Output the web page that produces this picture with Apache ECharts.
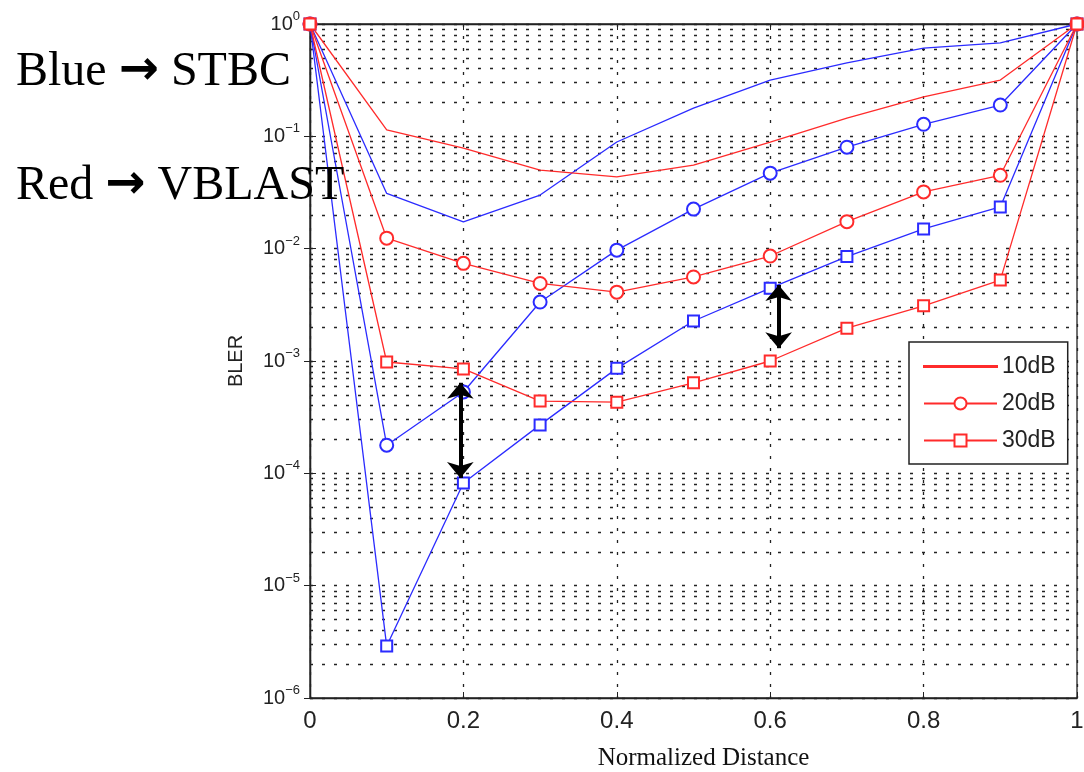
<!DOCTYPE html>
<html>
<head>
<meta charset="utf-8">
<script src="https://cdn.jsdelivr.net/npm/echarts@6/dist/echarts.min.js"></script>
<style>
    html, body { margin: 0; padding: 0; background: #fff; }
    #chart { width: 1084px; height: 772px; }
</style>
</head>
<body>
<div id="chart"></div>
<script>
// normalized distance (x) and BLER
const distance = [0, 0.1, 0.2, 0.3, 0.4, 0.5, 0.6, 0.7, 0.8, 0.9, 1];
const stbc10 = [1, 0.031, 0.0173, 0.030, 0.089, 0.178, 0.317, 0.45, 0.61, 0.68, 1];
const stbc20 = [1, 1.78e-4, 5.3e-4, 3.35e-3, 9.7e-3, 0.0225, 0.047, 0.080, 0.128, 0.19, 1];
const stbc30 = [1, 2.9e-6, 8.2e-5, 2.7e-4, 8.6e-4, 2.27e-3, 4.45e-3, 8.5e-3, 0.015, 0.0235, 1];
const vblast10 = [1, 0.114, 0.0785, 0.050, 0.0435, 0.0555, 0.089, 0.145, 0.224, 0.317, 1];
const vblast20 = [1, 0.0124, 7.4e-3, 4.9e-3, 4.1e-3, 5.6e-3, 8.6e-3, 0.0174, 0.032, 0.045, 1];
const vblast30 = [1, 9.8e-4, 8.5e-4, 4.4e-4, 4.3e-4, 6.4e-4, 1.0e-3, 1.96e-3, 3.1e-3, 5.25e-3, 1];

const snrNames = ['10dB', '20dB', '30dB'];
const yDecades = [-6, -5, -4, -3, -2, -1];
const minorSteps = [2, 3, 4, 5, 6, 7, 8, 9];
// double headed arrows marking the STBC / VBLAST gap
const gapArrows = [
    [[0.196, 6.4e-4], [0.196, 9.1e-5]],
    [[0.611, 4.75e-3], [0.611, 1.3e-3]],
];

const BLUE = '#2b2bff';
const RED = '#ff2b2b';
const INK = '#222';

let minorGrid = [];
yDecades.forEach(function (d) {
    minorSteps.forEach(function (m) {
        minorGrid.push({ yAxis: m * Math.pow(10, d) });
    });
});

function pairs(ys) {
    return distance.map(function (x, i) { return [x, ys[i]]; });
}

function curve(name, color, symbol, ys) {
    return {
        name: name,
        type: 'line',
        data: pairs(ys),
        z: 3,
        clip: false,
        symbol: symbol,
        symbolSize: symbol === 'emptyCircle' ? 13 : 11,
        showSymbol: symbol !== 'none',
        lineStyle: { color: color, width: 1.3 },
        itemStyle: { color: color, borderColor: color, borderWidth: 1.3 },
        emphasis: { disabled: true },
    };
}

const dotted = { color: INK, width: 1.3, type: [3, 9] };

let chart = echarts.init(document.getElementById('chart'));
let option = {
    animation: false,
    backgroundColor: '#fff',
    grid: {
        left: 310,
        right: 7,
        top: 24,
        bottom: 74,
        outerBoundsMode: 'none',
        containLabel: false,
        show: true,
        borderColor: INK,
        borderWidth: 1.3,
        backgroundColor: 'transparent',
    },
    legend: {
        left: 909,
        top: 342,
        z: 10,
        orient: 'vertical',
        selectedMode: false,
        backgroundColor: '#fff',
        borderColor: INK,
        borderWidth: 1.5,
        padding: [13, 12, 12, 14],
        itemWidth: 73,
        itemHeight: 15,
        itemGap: 14,
        textStyle: { fontFamily: 'Liberation Sans', fontSize: 23, color: INK },
        data: [
            { name: '10dB', icon: 'path://M0,0M73,15M0,6.9L73,6.9L73,8.1L0,8.1Z' },
            '20dB',
            '30dB',
        ],
    },
    xAxis: [
        {
            type: 'value',
            min: 0,
            max: 1,
            interval: 0.2,
            name: 'Normalized Distance',
            nameLocation: 'middle',
            nameGap: 48,
            nameTextStyle: { fontFamily: 'Liberation Serif', fontSize: 25, color: '#111', padding: [0, 0, 0, 20] },
            axisLine: { lineStyle: { color: INK, width: 1.3 } },
            axisTick: { inside: true, length: 6, lineStyle: { color: INK } },
            axisLabel: {
                margin: 11,
                fontFamily: 'Liberation Sans',
                fontSize: 24,
                color: INK,
                formatter: function (v) { return String(+v.toFixed(1)); },
            },
            splitLine: { show: true, lineStyle: dotted },
        },
        {
            type: 'value',
            position: 'top',
            min: 0,
            max: 1,
            interval: 0.2,
            axisLine: { lineStyle: { color: INK, width: 1.3 } },
            axisTick: { inside: true, length: 6, lineStyle: { color: INK } },
            axisLabel: { show: false },
            splitLine: { show: false },
        },
    ],
    yAxis: [
        {
            type: 'log',
            logBase: 10,
            min: 1e-6,
            max: 1,
            splitNumber: 6,
            name: 'BLER',
            nameLocation: 'middle',
            nameGap: 64,
            nameRotate: 90,
            nameTextStyle: { fontFamily: 'Liberation Sans', fontSize: 20, color: INK },
            axisLine: { show: true, lineStyle: { color: INK, width: 1.3 } },
            axisTick: { inside: true, length: 6, lineStyle: { color: INK } },
            axisLabel: {
                margin: 10,
                formatter: function (v) {
                    let e = Math.round(Math.log10(v));
                    return '{b|10}{s|' + (e < 0 ? '\u2212' + (-e) : e) + '}';
                },
                rich: {
                    b: { fontFamily: 'Liberation Sans', fontSize: 20, color: INK, lineHeight: 28 },
                    s: { fontFamily: 'Liberation Sans', fontSize: 13, color: INK, verticalAlign: 'top', lineHeight: 28 },
                },
            },
            splitLine: { show: true, lineStyle: dotted },
        },
        {
            type: 'log',
            logBase: 10,
            min: 1e-6,
            max: 1,
            splitNumber: 6,
            position: 'right',
            axisLine: { show: true, lineStyle: { color: INK, width: 1.3 } },
            axisTick: { inside: true, length: 6, lineStyle: { color: INK } },
            axisLabel: { show: false },
            splitLine: { show: false },
        },
    ],
    series: [
        {
            name: 'minor grid',
            type: 'line',
            data: [],
            z: 1,
            silent: true,
            markLine: {
                z: 1,
                silent: true,
                animation: false,
                precision: 12,
                symbol: ['none', 'none'],
                label: { show: false },
                lineStyle: dotted,
                emphasis: { disabled: true },
                data: minorGrid,
            },
        },
        curve('STBC 10dB', BLUE, 'none', stbc10),
        curve('STBC 20dB', BLUE, 'emptyCircle', stbc20),
        curve('STBC 30dB', BLUE, 'emptyRect', stbc30),
        curve('10dB', RED, 'none', vblast10),
        curve('20dB', RED, 'emptyCircle', vblast20),
        curve('30dB', RED, 'emptyRect', vblast30),
        {
            name: 'gap',
            type: 'line',
            data: [],
            z: 5,
            silent: true,
            markLine: {
                z: 6,
                silent: true,
                animation: false,
                precision: 12,
                symbol: ['arrow', 'arrow'],
                symbolSize: [20, 16],
                label: { show: false },
                lineStyle: { color: '#000', width: 4, type: 'solid' },
                emphasis: { disabled: true },
                data: gapArrows.map(function (a) { return [{ coord: a[0] }, { coord: a[1] }]; }),
            },
        },
    ],
    graphic: [
        {
            type: 'text',
            z: 100,
            style: {
                text: '{t|Blue }{a|\u2192}{t| STBC}',
                x: 16, y: 72,
                verticalAlign: 'middle',
                rich: {
                    t: { font: '48px "Liberation Serif"', fill: '#000' },
                    a: { font: 'bold 48px "DejaVu Sans"', fill: '#000' },
                },
            },
        },
        {
            type: 'text',
            z: 100,
            style: {
                text: '{t|Red }{a|\u2192}{t| VBLAST}',
                x: 16, y: 186,
                verticalAlign: 'middle',
                rich: {
                    t: { font: '48px "Liberation Serif"', fill: '#000' },
                    a: { font: 'bold 48px "DejaVu Sans"', fill: '#000' },
                },
            },
        },
    ],
};
chart.setOption(option);
</script>
</body>
</html>
